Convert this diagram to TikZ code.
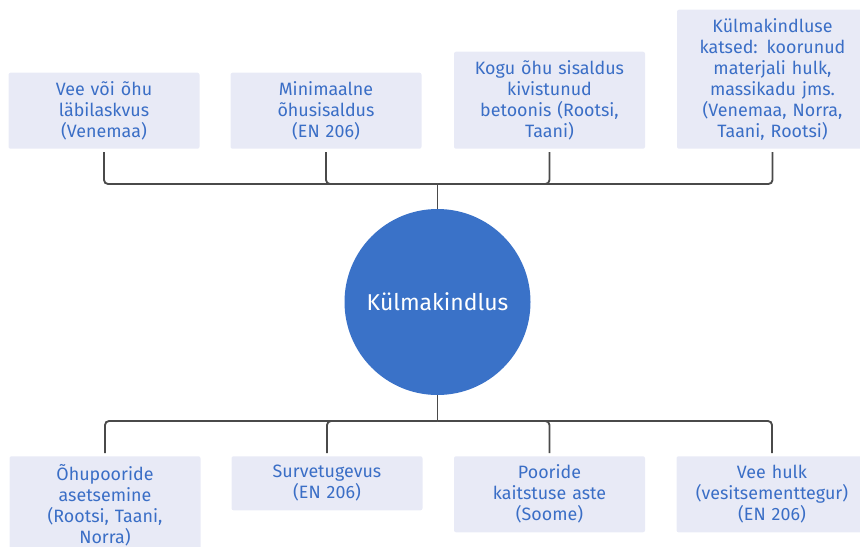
\documentclass[tikz,border=0pt]{standalone}
\usepackage{fontspec}
\setmainfont{Fira Sans}
\definecolor{boxfill}{HTML}{E8EAF6}
\definecolor{txtblue}{HTML}{3A6EC6}
\definecolor{circblue}{HTML}{3A72C8}
\definecolor{linegray}{HTML}{4A4A4A}
\begin{document}
\begin{tikzpicture}[x=0.75pt,y=-0.75pt,
  cbox/.style={fill=boxfill, rounded corners=1.5pt, inner sep=0pt,
    minimum width=143.25pt, text width=142pt, align=center, text=txtblue,
    font=\fontsize{13.4}{15.75}\selectfont},
  conn/.style={draw=linegray, line width=1.4pt, rounded corners=3pt, shorten >=2.25pt},
  hub/.style={circle, fill=circblue, text=white, minimum size=139.5pt, inner sep=0pt,
    font=\fontsize{17.2}{19}\selectfont}]
\useasboundingbox (0,0) rectangle (860,546);
\clip (0,0) rectangle (860,546);
% top boxes
\node[cbox, minimum height=57pt, anchor=south] (t1) at (104,149) {Vee või õhu\\läbilaskvus\\(Venemaa)};
\node[cbox, minimum height=57pt, anchor=south] (t2) at (326,149) {Minimaalne\\õhusisaldus\\(EN 206)};
\node[cbox, minimum height=72.75pt, anchor=south] (t3) at (549.5,149) {Kogu õhu sisaldus\\kivistunud\\betoonis (Rootsi,\\Taani)};
\node[cbox, minimum height=104.25pt, anchor=south] (t4) at (772.5,149) {Külmakindluse\\katsed: koorunud\\materjali hulk,\\massikadu jms.\\(Venemaa, Norra,\\Taani, Rootsi)};
% centre
\node[hub] (c) at (437.5,302) {Külmakindlus};
% bottom boxes
\node[cbox, minimum height=72.75pt, anchor=north] (b1) at (105,456) {Õhupooride\\asetsemine\\(Rootsi, Taani,\\Norra)};
\node[cbox, minimum height=40.5pt, anchor=north] (b2) at (327,456) {Survetugevus\\(EN 206)};
\node[cbox, minimum height=57pt, anchor=north] (b3) at (549.5,456) {Pooride\\kaitstuse aste\\(Soome)};
\node[cbox, minimum height=57pt, anchor=north] (b4) at (772,456) {Vee hulk\\(vesitsementtegur)\\(EN 206)};
% connectors
\coordinate (jt) at (437.5,184);
\coordinate (jb) at (437.5,421);
\draw[conn, shorten >=0pt] (c.north) -- (jt);
\draw[conn, shorten >=0pt] (c.south) -- (jb);
\foreach \n in {t1,t2,t3,t4} \draw[conn] (jt) -| (\n.south);
\foreach \n in {b1,b2,b3,b4} \draw[conn] (jb) -| (\n.north);
\end{tikzpicture}
\end{document}
